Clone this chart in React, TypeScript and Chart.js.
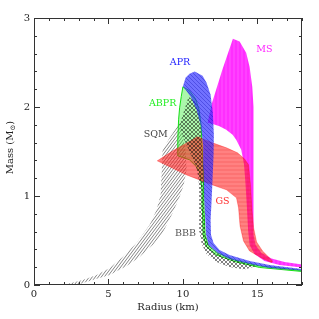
import React, { useEffect, useRef } from 'react';
import { Chart, registerables } from 'chart.js';
Chart.register(...registerables);

// ---- Data (Radius in km, Mass in solar masses) ----
const APR_R = [10.79, 11.32, 11.59, 11.86, 12.01, 12.08, 12.06, 11.99, 11.93, 11.86, 11.89, 12.06, 12.46, 13.13, 14.48, 15.82, 18.0, 18.0, 15.82, 14.48, 13.13, 12.33, 11.72, 11.56, 11.49, 11.42, 11.39, 11.36, 11.19, 10.92, 10.52, 10.18, 10.0, 10.18, 10.45];
const APR_M = [2.40, 2.351, 2.272, 2.137, 1.935, 1.687, 1.462, 1.181, 0.956, 0.731, 0.562, 0.472, 0.394, 0.337, 0.270, 0.225, 0.180, 0.163, 0.191, 0.236, 0.292, 0.360, 0.450, 0.562, 0.787, 1.012, 1.294, 1.575, 1.80, 1.968, 2.115, 2.193, 2.231, 2.328, 2.373];

const ABPR_R = [10.0, 10.45, 10.85, 11.09, 11.22, 11.29, 11.36, 11.39, 11.42, 11.49, 11.72, 12.33, 13.47, 15.15, 18.0, 18.0, 15.15, 13.47, 12.26, 11.59, 11.36, 11.32, 11.29, 11.12, 10.90, 10.45, 9.98, 9.66, 9.66, 9.71, 9.78, 9.89];
const ABPR_M = [2.227, 2.182, 2.092, 1.968, 1.80, 1.575, 1.350, 1.125, 0.844, 0.562, 0.439, 0.360, 0.281, 0.214, 0.163, 0.152, 0.197, 0.264, 0.337, 0.427, 0.562, 0.844, 1.069, 1.271, 1.331, 1.406, 1.434, 1.451, 1.631, 1.856, 1.991, 2.118];

const GS_R = [8.28, 9.31, 10.23, 10.99, 11.99, 12.93, 13.67, 14.14, 14.41, 14.54, 14.64, 14.75, 14.95, 15.35, 16.02, 15.95, 15.35, 14.48, 14.07, 13.84, 13.74, 13.60, 12.93, 11.99, 11.12, 10.25];
const GS_M = [1.395, 1.507, 1.594, 1.665, 1.597, 1.541, 1.485, 1.417, 1.350, 1.125, 0.844, 0.641, 0.484, 0.382, 0.270, 0.253, 0.298, 0.382, 0.495, 0.664, 0.866, 0.979, 1.069, 1.125, 1.181, 1.237];

const MS_R = [18.0, 16.83, 15.95, 15.28, 14.88, 14.75, 14.71, 14.71, 14.75, 14.77, 14.77, 14.75, 14.66, 14.48, 14.25, 13.81, 13.36, 12.65, 11.96, 11.66, 12.01, 12.46, 12.91, 13.34, 13.58, 13.92, 14.11, 14.21, 14.31, 14.38, 14.48, 14.81, 15.48, 16.49, 18.0];
const MS_M = [0.231, 0.259, 0.298, 0.360, 0.450, 0.562, 0.731, 0.956, 1.237, 1.519, 1.777, 2.002, 2.227, 2.452, 2.61, 2.737, 2.767, 2.418, 2.047, 1.822, 1.808, 1.783, 1.744, 1.687, 1.631, 1.519, 1.350, 1.125, 0.844, 0.619, 0.450, 0.349, 0.270, 0.225, 0.197];

const BBB_R = [10.38, 10.85, 11.09, 11.22, 11.29, 11.36, 11.42, 11.46, 11.52, 11.72, 12.13, 12.80, 13.81, 14.95, 14.14, 13.13, 12.26, 11.59, 11.26, 11.12, 11.09, 11.09, 11.05, 10.85, 10.45, 10.05, 9.78];
const BBB_M = [2.115, 2.058, 1.946, 1.744, 1.519, 1.237, 0.956, 0.731, 0.562, 0.450, 0.371, 0.315, 0.264, 0.214, 0.174, 0.202, 0.259, 0.349, 0.461, 0.596, 0.844, 1.069, 1.204, 1.350, 1.496, 1.642, 1.80];

const SQM_R = [1.93, 3.27, 4.21, 5.08, 5.95, 6.89, 7.76, 8.23, 8.50, 8.57, 8.64, 9.11, 9.78, 9.98, 10.18, 10.25, 10.05, 9.78, 9.31, 8.64, 7.97, 7.09, 6.22, 5.08, 3.94, 3.07, 2.40];
const SQM_M = [0.0, 0.056, 0.112, 0.191, 0.315, 0.472, 0.675, 0.844, 1.012, 1.237, 1.519, 1.654, 1.822, 1.687, 1.519, 1.294, 1.125, 0.990, 0.810, 0.585, 0.450, 0.315, 0.214, 0.112, 0.056, 0.011, 0.0];

const REGION_LABELS = ['MS', 'APR', 'ABPR', 'SQM', 'GS', 'BBB'];
const LABEL_R = [15.48, 9.81, 8.64, 8.17, 12.66, 10.18];
const LABEL_M = [2.643, 2.497, 2.036, 1.687, 0.934, 0.574];
const LABEL_COLORS = ['#ff22ff', '#2222ff', '#22ee22', '#444444', '#ff2a2a', '#555555'];

const X_MAJOR = [0, 5, 10, 15];
const Y_MAJOR = [0, 1, 2, 3];

const FONT = '"DejaVu Serif", serif';

function pts(R: number[], M: number[]) {
  const p = R.map((r, i) => ({ x: r, y: M[i] }));
  p.push({ x: R[0], y: M[0] });
  return p;
}

function makePattern(
  main: CanvasRenderingContext2D,
  w: number,
  h: number,
  bg: string | null,
  line: string,
  kind: string,
  lw: number
) {
  const c = document.createElement('canvas');
  c.width = w;
  c.height = h;
  const g = c.getContext('2d') as CanvasRenderingContext2D;
  if (bg) {
    g.fillStyle = bg;
    g.fillRect(0, 0, w, h);
  }
  g.strokeStyle = line;
  g.lineWidth = lw;
  g.beginPath();
  if (kind === 'h') {
    g.moveTo(0, h / 2);
    g.lineTo(w, h / 2);
  }
  if (kind === 'v') {
    g.moveTo(w / 2, 0);
    g.lineTo(w / 2, h);
  }
  if (kind === '/' || kind === 'x') {
    for (const k of [-w, 0, w]) {
      g.moveTo(k, h);
      g.lineTo(k + w, 0);
    }
  }
  if (kind === '\\' || kind === 'x') {
    for (const k of [-w, 0, w]) {
      g.moveTo(k, 0);
      g.lineTo(k + w, h);
    }
  }
  g.stroke();
  return main.createPattern(c, 'repeat') as CanvasPattern;
}

const decorPlugin = {
  id: 'decor',
  afterDatasetsDraw(chart: any) {
    const { ctx, chartArea: a, scales } = chart;
    const xs = scales.x;
    const ys = scales.y;
    ctx.save();
    // region labels
    ctx.font = `9.5px ${FONT}`;
    ctx.textAlign = 'center';
    ctx.textBaseline = 'middle';
    REGION_LABELS.forEach((t, i) => {
      ctx.fillStyle = LABEL_COLORS[i];
      ctx.fillText(t, xs.getPixelForValue(LABEL_R[i]), ys.getPixelForValue(LABEL_M[i]));
    });
    // frame
    ctx.strokeStyle = '#333';
    ctx.lineWidth = 1;
    ctx.strokeRect(a.left + 0.5, a.top + 0.5, a.right - a.left - 1, a.bottom - a.top - 1);
    ctx.beginPath();
    for (let v = 0; v <= 18; v += 1) {
      const px = Math.round(xs.getPixelForValue(v)) + 0.5;
      const L = v % 5 === 0 ? 6 : 3;
      ctx.moveTo(px, a.bottom);
      ctx.lineTo(px, a.bottom - L);
      ctx.moveTo(px, a.top);
      ctx.lineTo(px, a.top + L);
    }
    for (let k = 0; k <= 15; k += 1) {
      const v = k * 0.2;
      const py = Math.round(ys.getPixelForValue(v)) + 0.5;
      const L = k % 5 === 0 ? 6 : 3;
      ctx.moveTo(a.left, py);
      ctx.lineTo(a.left + L, py);
      ctx.moveTo(a.right, py);
      ctx.lineTo(a.right - L, py);
    }
    ctx.stroke();
    // y title with subscript
    ctx.translate(10, (a.top + a.bottom) / 2 - 4);
    ctx.rotate(-Math.PI / 2);
    ctx.fillStyle = '#222';
    ctx.textAlign = 'left';
    ctx.textBaseline = 'middle';
    const big = `10px ${FONT}`;
    const small = `7px ${FONT}`;
    ctx.font = big;
    const w1 = ctx.measureText('Mass (M').width;
    const w3 = ctx.measureText(')').width;
    ctx.font = small;
    const w2 = ctx.measureText('\u2299').width;
    const x0 = -(w1 + w2 + w3) / 2;
    ctx.font = big;
    ctx.fillText('Mass (M', x0, 0);
    ctx.font = small;
    ctx.fillText('\u2299', x0 + w1, 3);
    ctx.font = big;
    ctx.fillText(')', x0 + w1 + w2, 0);
    ctx.restore();
  },
};

export default function App() {
  const ref = useRef<HTMLCanvasElement | null>(null);
  useEffect(() => {
    document.body.style.margin = '0';
    const canvas = ref.current as HTMLCanvasElement;
    const main = canvas.getContext('2d') as CanvasRenderingContext2D;
    const pAPR = makePattern(main, 4, 4, 'rgba(45,45,255,0.68)', 'rgba(0,0,170,0.3)', '\\', 1);
    const pGS = makePattern(main, 4, 4, 'rgba(255,25,25,0.55)', 'rgba(230,0,0,0.22)', 'h', 1);
    const pMS = makePattern(main, 4, 4, 'rgba(255,0,255,0.82)', 'rgba(255,130,255,0.45)', 'v', 1);
    const pBBB = makePattern(main, 4, 4, null, 'rgba(0,0,0,0.7)', 'x', 0.7);
    const pSQM = makePattern(main, 3, 4, null, 'rgba(50,50,50,0.75)', '/', 0.8);
    const none = 'rgba(0,0,0,0)';
    const base = { showLine: true, pointRadius: 0, tension: 0, fill: 'shape', borderWidth: 1 };
    const chart = new Chart(canvas, {
      type: 'scatter',
      data: {
        datasets: [
          { ...base, label: 'APR', data: pts(APR_R, APR_M), backgroundColor: pAPR, borderColor: none },
          { ...base, label: 'BBB', data: pts(BBB_R, BBB_M), backgroundColor: pBBB, borderColor: none },
          { ...base, label: 'GS', data: pts(GS_R, GS_M), backgroundColor: pGS, borderColor: 'rgba(255,0,0,0.3)' },
          { ...base, label: 'ABPR', data: pts(ABPR_R, ABPR_M), backgroundColor: 'rgba(0,230,0,0.33)', borderColor: 'rgba(0,220,0,0.9)' },
          { ...base, label: 'MS', data: pts(MS_R, MS_M), backgroundColor: pMS, borderColor: none },
          { ...base, label: 'SQM', data: pts(SQM_R, SQM_M), backgroundColor: pSQM, borderColor: none },
        ] as any,
      },
      options: {
        animation: false,
        responsive: true,
        maintainAspectRatio: false,
        layout: { padding: { top: 18, right: 17, left: 0, bottom: 0 } },
        plugins: { legend: { display: false }, tooltip: { enabled: false } },
        scales: {
          x: {
            type: 'linear',
            min: 0,
            max: 18,
            afterFit: (s: any) => {
              s.height = 34;
            },
            grid: { display: false, drawTicks: false },
            border: { display: false },
            ticks: {
              stepSize: 5,
              includeBounds: false,
              padding: 3,
              color: '#222',
              font: { family: FONT, size: 10 },
              callback: (v: any) => (X_MAJOR.includes(Number(v)) ? String(v) : ''),
            },
            title: {
              display: true,
              text: 'Radius (km)',
              color: '#222',
              font: { family: FONT, size: 10 },
              padding: { top: 0, bottom: 6 },
            },
          },
          y: {
            type: 'linear',
            min: 0,
            max: 3,
            afterFit: (s: any) => {
              s.width = 34;
            },
            grid: { display: false, drawTicks: false },
            border: { display: false },
            ticks: {
              stepSize: 1,
              padding: 4,
              color: '#222',
              font: { family: FONT, size: 10 },
              callback: (v: any) => (Y_MAJOR.includes(Number(v)) ? String(v) : ''),
            },
          },
        },
      },
      plugins: [decorPlugin],
    });
    return () => chart.destroy();
  }, []);
  return (
    <div style={{ position: 'fixed', left: 0, top: 0, width: 319, height: 319, background: '#fff' }}>
      <canvas ref={ref} />
    </div>
  );
}
